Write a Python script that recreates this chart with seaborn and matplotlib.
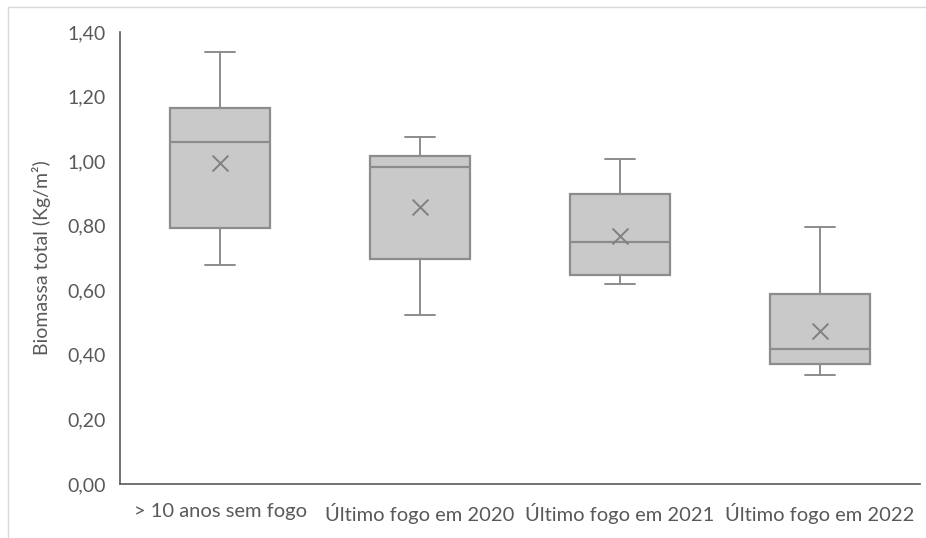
import matplotlib
matplotlib.use("Agg")
import matplotlib.pyplot as plt
import seaborn as sns
import pandas as pd
from matplotlib.lines import Line2D
from matplotlib.ticker import FuncFormatter

categories = ["> 10 anos sem fogo", "Último fogo em 2020", "Último fogo em 2021", "Último fogo em 2022"]
whisker_low = [0.678, 0.522, 0.621, 0.338]
q1 = [0.793, 0.696, 0.648, 0.372]
median = [1.059, 0.983, 0.750, 0.419]
q3 = [1.164, 1.016, 0.898, 0.588]
whisker_high = [1.338, 1.076, 1.007, 0.795]
means = [0.994, 0.859, 0.767, 0.475]
yticks = [0.0, 0.2, 0.4, 0.6, 0.8, 1.0, 1.2, 1.4]

sns.set_style("white")
plt.rcParams['font.family'] = ['Lato', 'DejaVu Sans']

W, H = 926, 538
fig = plt.figure(figsize=(W / 100, H / 100), dpi=100)
ax = fig.add_axes([120 / W, 1 - 484 / H, 800 / W, (484 - 32) / H])

edge = "#8C8C8C"
fill = "#C9C9C9"
stats = []
for i, c in enumerate(categories):
    stats.append(dict(label=c, whislo=whisker_low[i], q1=q1[i], med=median[i],
                      q3=q3[i], whishi=whisker_high[i], fliers=[]))
ax.bxp(stats, positions=range(len(categories)), widths=0.5, patch_artist=True,
       showfliers=False,
       boxprops=dict(facecolor=fill, edgecolor=edge, linewidth=1.6),
       medianprops=dict(color=edge, linewidth=1.6),
       whiskerprops=dict(color=edge, linewidth=1.4),
       capprops=dict(color=edge, linewidth=1.4),
       capwidths=0.15)

df = pd.DataFrame({"cat": list(range(len(categories))), "mean": means})
sns.scatterplot(data=df, x="cat", y="mean", marker="x", s=130, color="#808080",
                linewidth=1.4, ax=ax, legend=False, zorder=5)

ax.set_xlim(-0.5, len(categories) - 0.5)
ax.set_ylim(0, 1.4)
ax.set_yticks(yticks)
ax.yaxis.set_major_formatter(FuncFormatter(lambda v, p: f"{v:.2f}".replace(".", ",")))
ax.set_xticks(range(len(categories)))
ax.set_xticklabels(categories)
ax.tick_params(axis="both", length=0, labelcolor="#595959")
ax.tick_params(axis="y", pad=10, labelsize=14)
ax.tick_params(axis="x", pad=14, labelsize=14.5)
ax.set_xlabel("")
ax.set_ylabel("Biomassa total (Kg/m²)", fontsize=14, color="#595959", labelpad=12)
for s in ["top", "right"]:
    ax.spines[s].set_visible(False)
for s in ["left", "bottom"]:
    ax.spines[s].set_color("#595959")
    ax.spines[s].set_linewidth(1.2)

# chart area border (left and top)
fig.add_artist(Line2D([8 / W, 8 / W], [0, 1 - 7 / H], transform=fig.transFigure, color="#D9D9D9", linewidth=1))
fig.add_artist(Line2D([8 / W, 1], [1 - 7 / H, 1 - 7 / H], transform=fig.transFigure, color="#D9D9D9", linewidth=1))

fig.savefig("out.png", dpi=100)
